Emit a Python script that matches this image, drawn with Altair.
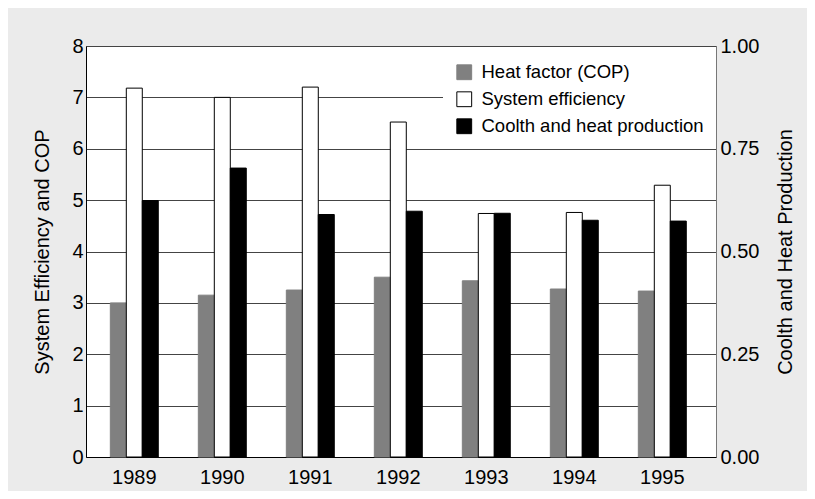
import altair as alt
import pandas as pd

years = ["1989", "1990", "1991", "1992", "1993", "1994", "1995"]
series_names = ["Heat factor (COP)", "System efficiency", "Coolth and heat production"]
cop = [3.0, 3.15, 3.25, 3.5, 3.43, 3.27, 3.23]
sys_eff = [7.18, 7.0, 7.2, 6.52, 4.74, 4.76, 5.29]
coolth = [0.624, 0.703, 0.590, 0.598, 0.593, 0.576, 0.574]
left_ticks = [0, 1, 2, 3, 4, 5, 6, 7, 8]
right_ticks = [0, 0.25, 0.5, 0.75, 1.0]

left_df = pd.DataFrame(
    {
        "year": years * 2,
        "series": [series_names[0]] * 7 + [series_names[1]] * 7,
        "value": cop + sys_eff,
    }
)
right_df = pd.DataFrame(
    {"year": years, "series": [series_names[2]] * 7, "value": coolth}
)

FONT = "Liberation Sans"

x_enc = alt.X(
    "year:N",
    sort=years,
    scale=alt.Scale(paddingInner=0.455, paddingOuter=0.307, align=0.45),
    axis=alt.Axis(
        title=None,
        labelAngle=0,
        tickSize=0,
        labelPadding=10,
        labelFontSize=20,
        labelColor="#000",
        domainColor="#000",
        labelFont=FONT,
    ),
)
xoff = alt.XOffset(
    "series:N",
    sort=series_names,
    scale=alt.Scale(domain=series_names, paddingInner=0, paddingOuter=0),
)
fill_enc = alt.Fill(
    "series:N",
    sort=series_names,
    scale=alt.Scale(domain=series_names, range=["#808080", "#ffffff", "#000000"]),
    legend=alt.Legend(
        title=None,
        orient="none",
        legendX=357,
        legendY=5,
        fillColor="#ffffff",
        padding=12,
        symbolType="square",
        symbolSize=220,
        symbolStrokeWidth=1,
        labelFontSize=18.5,
        labelFont=FONT,
        labelColor="#000",
        labelOffset=8,
        rowPadding=7,
        labelLimit=400,
    ),
)
stroke_enc = alt.Stroke(
    "series:N",
    sort=series_names,
    scale=alt.Scale(domain=series_names, range=["#808080", "#000000", "#000000"]),
    legend=alt.Legend(
        title=None,
        orient="none",
        legendX=357,
        legendY=5,
        fillColor="#ffffff",
        padding=12,
        symbolType="square",
        symbolSize=220,
        symbolStrokeWidth=1,
        labelFontSize=18.5,
        labelFont=FONT,
        labelColor="#000",
        labelOffset=8,
        rowPadding=7,
        labelLimit=400,
    ),
)

left_layer = alt.Chart(left_df).mark_bar(strokeWidth=1).encode(
    x=x_enc,
    xOffset=xoff,
    y=alt.Y(
        "value:Q",
        scale=alt.Scale(domain=[0, 8], nice=False),
        axis=alt.Axis(
            title="System Efficiency and COP",
            values=left_ticks,
            orient="left",
            grid=True,
            gridColor="#444",
            gridWidth=1,
            tickSize=0,
            labelPadding=3,
            labelFontSize=20,
            labelFont=FONT,
            labelColor="#000",
            titleFontSize=20,
            titleFont=FONT,
            titleFontWeight="normal",
            titleColor="#000",
            titlePadding=19,
            domainColor="#000",
        ),
    ),
    fill=fill_enc,
    stroke=stroke_enc,
)

right_layer = alt.Chart(right_df).mark_bar(strokeWidth=1).encode(
    x=x_enc,
    xOffset=xoff,
    y=alt.Y(
        "value:Q",
        scale=alt.Scale(domain=[0, 1], nice=False),
        axis=alt.Axis(
            title="Coolth and Heat Production",
            values=right_ticks,
            format=".2f",
            orient="right",
            grid=False,
            tickSize=0,
            labelPadding=4,
            labelFontSize=20,
            labelFont=FONT,
            labelColor="#000",
            titleFontSize=20,
            titleFont=FONT,
            titleFontWeight="normal",
            titleColor="#000",
            titleAngle=270,
            titleBaseline="top",
            titlePadding=17,
            domainColor="#777",
        ),
    ),
    fill=fill_enc,
    stroke=stroke_enc,
)

chart = (
    alt.layer(left_layer, right_layer)
    .resolve_scale(y="independent")
    .properties(
        width=630,
        height=411,
        padding={"left": 78, "top": 38, "right": 91, "bottom": 34},
        autosize=alt.AutoSizeParams(type="none"),
        background="#ebebeb",
    )
    .configure_view(stroke="#777", strokeWidth=1, fill="#ffffff")
)

chart.save("out.html", embed_options={"renderer": "svg", "actions": False})
